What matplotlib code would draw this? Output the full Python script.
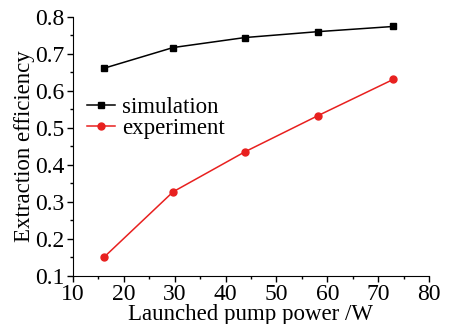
import matplotlib
matplotlib.use("Agg")
import matplotlib.pyplot as plt
from matplotlib.ticker import MultipleLocator

power = [16.1, 29.7, 43.8, 58.2, 73.0]
simulation = [0.661, 0.717, 0.744, 0.760, 0.774]
experiment = [0.150, 0.327, 0.435, 0.533, 0.631]

plt.rcParams['font.family'] = ['Liberation Serif']
fig = plt.figure(figsize=(4.53, 3.24), dpi=100)
ax = fig.add_axes([0.161, 0.149, 0.786, 0.799])

ax.plot(power, simulation, color='black', marker='s', markersize=5, lw=1.1, label='simulation')
ax.plot(power, experiment, color='#e8201f', marker='o', markersize=5, lw=1.1, label='experiment')

ax.set_xlim(10, 80)
ax.set_ylim(0.1, 0.8)
ax.xaxis.set_major_locator(MultipleLocator(10))
ax.xaxis.set_minor_locator(MultipleLocator(5))
ax.yaxis.set_major_locator(MultipleLocator(0.1))
ax.yaxis.set_minor_locator(MultipleLocator(0.05))
ax.spines['top'].set_visible(False)
ax.spines['right'].set_visible(False)
ax.tick_params(which='major', direction='out', length=4, width=1, labelsize=17, pad=2)
ax.tick_params(which='minor', direction='out', length=2.5, width=1)
ax.set_xlabel('Launched pump power /W', fontsize=16.5, labelpad=-1)
ax.set_ylabel('Extraction efficiency', fontsize=16.5, labelpad=0)

ax.legend(loc='upper left', bbox_to_anchor=(0.0, 0.745), frameon=False, fontsize=16.5,
          handlelength=1.25, handletextpad=0.3, labelspacing=0.0, borderaxespad=0.2)

fig.savefig('out.png', dpi=100)
